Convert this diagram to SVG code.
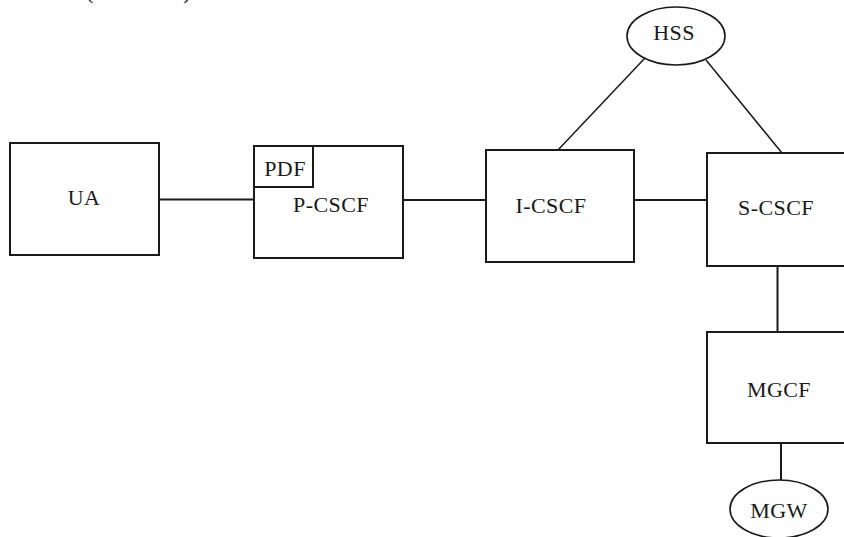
<svg xmlns="http://www.w3.org/2000/svg" width="844" height="537" viewBox="0 0 844 537">
<style>
.box{fill:none;stroke:#1a1a1a;stroke-width:2}
.ell{fill:none;stroke:#1a1a1a;stroke-width:1.6}
.ln{stroke:#1a1a1a;stroke-width:2;fill:none}
.dg{stroke:#1a1a1a;stroke-width:1.5;fill:none}
text{font-family:"Liberation Serif","Times New Roman",serif;font-size:22px;letter-spacing:0.4px;fill:#1a1a1a;text-anchor:middle}
</style>
<rect width="844" height="537" fill="#fefefe"/>
<g id="cut-text">
<text x="90" y="-1">(</text>
<text x="187" y="-1">)</text>
</g>
<g id="connectors">
<line class="ln" x1="159" y1="199.5" x2="254" y2="199.5"/>
<line class="ln" x1="403" y1="200" x2="486" y2="200"/>
<line class="ln" x1="634" y1="200" x2="707" y2="200"/>
<line class="dg" x1="645" y1="58" x2="558" y2="150"/>
<line class="dg" x1="706" y1="60" x2="782" y2="153"/>
<line class="ln" x1="777.5" y1="266" x2="777.5" y2="332"/>
<line class="ln" x1="781" y1="443" x2="781" y2="480"/>
</g>
<g id="UA">
<rect class="box" x="10" y="143" width="149" height="112"/>
<text x="84" y="205">UA</text>
</g>
<g id="P-CSCF">
<rect class="box" x="254" y="146" width="149" height="112"/>
<text x="331" y="212">P-CSCF</text>
</g>
<g id="PDF">
<rect class="box" x="254" y="146" width="59" height="41"/>
<text x="285" y="176">PDF</text>
</g>
<g id="I-CSCF">
<rect class="box" x="486" y="150" width="148" height="112"/>
<text x="551" y="213">I-CSCF</text>
</g>
<g id="S-CSCF">
<rect class="box" x="707" y="153" width="150" height="113"/>
<text x="776" y="215">S-CSCF</text>
</g>
<g id="HSS">
<ellipse class="ell" cx="676" cy="36" rx="49" ry="29"/>
<text x="674" y="40">HSS</text>
</g>
<g id="MGCF">
<rect class="box" x="707" y="332" width="150" height="111"/>
<text x="779" y="397">MGCF</text>
</g>
<g id="MGW">
<ellipse class="ell" cx="779" cy="509" rx="49" ry="29"/>
<text x="779" y="518">MGW</text>
</g>
</svg>
